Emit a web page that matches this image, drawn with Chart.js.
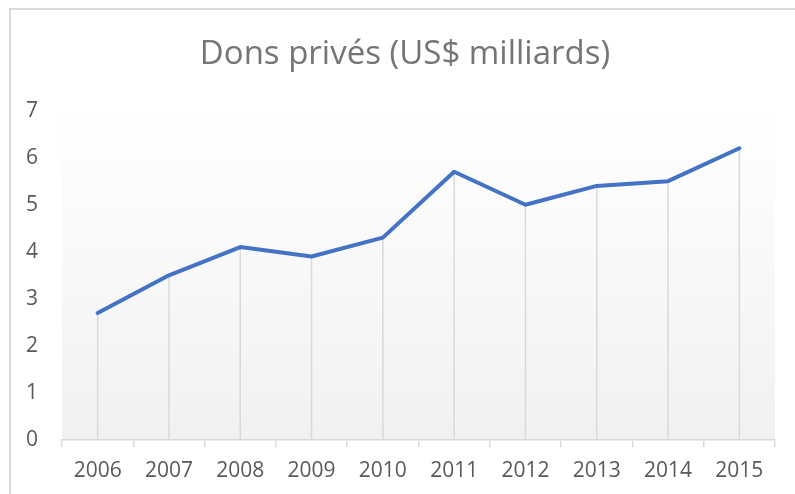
<!DOCTYPE html>
<html>
  <head>
    <title>Dons privés</title>
    <style>
      body {
        margin: 0;
        padding: 0;
        background-color: white;
        font-family: 'Open Sans', sans-serif;
      }
      .chart-box {
        position: relative;
        width: 795px;
        height: 494px;
        overflow: hidden;
      }
      .frame {
        position: absolute;
        left: 9px;
        top: 8px;
        width: 820px;
        height: 520px;
        border-left: 2px solid #d9d9d9;
        border-top: 2px solid #d9d9d9;
        pointer-events: none;
      }
    </style>
    <script src="https://cdn.jsdelivr.net/npm/chart.js"></script>
  </head>
  <body>
    <div class="chart-box">
      <canvas id="lineChart" width="810" height="494"></canvas>
      <div class="frame"></div>
    </div>
    <script>
      const years = ["2006", "2007", "2008", "2009", "2010", "2011", "2012", "2013", "2014", "2015"];
      const dons = [2.7, 3.5, 4.1, 3.9, 4.3, 5.7, 5.0, 5.4, 5.5, 6.2];
      const yTicks = [0, 1, 2, 3, 4, 5, 6, 7];

      // light gradient behind the plot area
      const plotBackground = {
        id: "plotBackground",
        beforeDraw(chart) {
          const { ctx, chartArea } = chart;
          const grad = ctx.createLinearGradient(0, chartArea.top, 0, chartArea.bottom);
          grad.addColorStop(0, "#ffffff");
          grad.addColorStop(1, "#f1f1f1");
          ctx.save();
          ctx.fillStyle = grad;
          ctx.fillRect(chartArea.left, chartArea.top - 12, chartArea.right - chartArea.left, chartArea.bottom - chartArea.top + 12);
          ctx.restore();
        }
      };

      // vertical drop lines from each point to the axis
      const dropLines = {
        id: "dropLines",
        beforeDatasetsDraw(chart) {
          const { ctx } = chart;
          const meta = chart.getDatasetMeta(0);
          const bottom = chart.scales.y.getPixelForValue(0);
          ctx.save();
          ctx.strokeStyle = "#d9d9d9";
          ctx.lineWidth = 1.5;
          meta.data.forEach(pt => {
            ctx.beginPath();
            ctx.moveTo(pt.x, pt.y);
            ctx.lineTo(pt.x, bottom);
            ctx.stroke();
          });
          ctx.restore();
        }
      };

      new Chart(document.getElementById("lineChart"), {
        type: "line",
        data: {
          labels: years,
          datasets: [{
            data: dons,
            borderColor: "#4472C4",
            borderWidth: 4,
            borderJoinStyle: "round",
            borderCapStyle: "round",
            pointRadius: 0,
            tension: 0,
            fill: false
          }]
        },
        options: {
          responsive: false,
          animation: false,
          layout: { padding: 0 },
          plugins: {
            legend: { display: false },
            tooltip: { enabled: false },
            title: {
              display: true,
              text: "Dons privés (US$ milliards)",
              color: "#757575",
              font: { family: "'Open Sans', sans-serif", size: 33, weight: "normal" },
              padding: { top: 35, bottom: 36 }
            }
          },
          scales: {
            x: {
              offset: true,
              afterFit(scale) { scale.height = 54; },
              grid: {
                offset: true,
                drawOnChartArea: false,
                drawTicks: true,
                tickLength: 7,
                color: "#d9d9d9",
                lineWidth: 1.5
              },
              border: { display: true, color: "#d9d9d9", width: 1.5 },
              ticks: {
                color: "#595959",
                font: { family: "'Open Sans', sans-serif", size: 21 },
                padding: 11,
                maxRotation: 0
              }
            },
            y: {
              min: 0,
              max: 7,
              afterFit(scale) { scale.width = 62; },
              afterBuildTicks(scale) { scale.ticks = yTicks.map(v => ({ value: v })); },
              grid: { display: false, drawTicks: false },
              border: { display: false },
              ticks: {
                color: "#595959",
                font: { family: "'Open Sans', sans-serif", size: 21 },
                padding: 24
              }
            },
            // empty right-hand strip so the plot ends where the reference does
            yRight: {
              position: "right",
              afterFit(scale) { scale.width = 35; },
              grid: { display: false, drawTicks: false },
              border: { display: false },
              ticks: { display: false }
            }
          }
        },
        plugins: [plotBackground, dropLines]
      });
    </script>
  </body>
</html>
